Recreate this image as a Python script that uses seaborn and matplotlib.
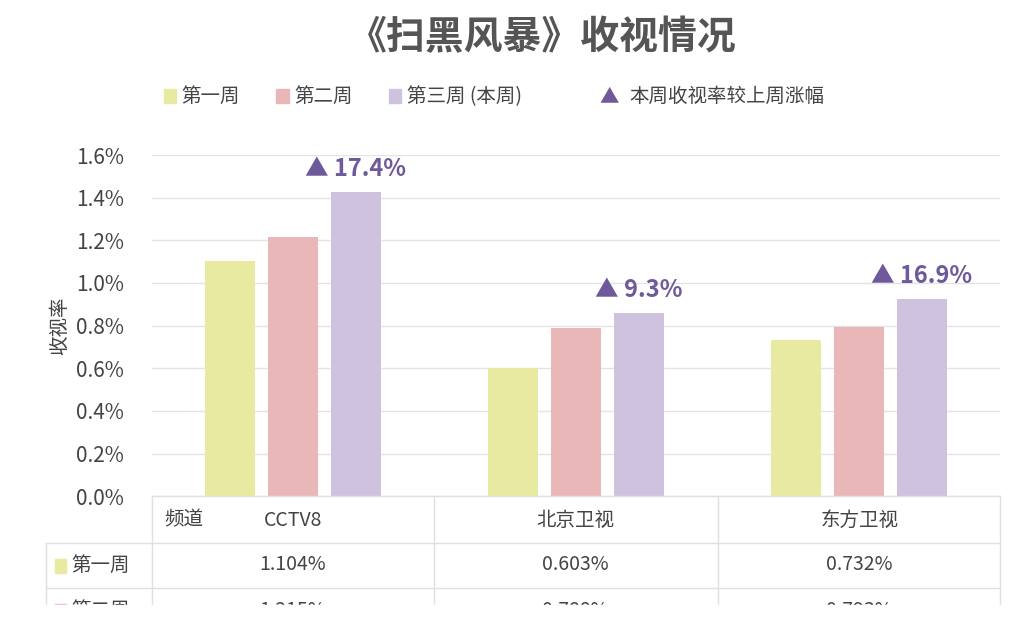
import pandas as pd
import seaborn as sns
from matplotlib import pyplot as plt
from matplotlib.patches import Rectangle

channels = ['CCTV8', '北京卫视', '东方卫视']
weeks = ['第一周', '第二周', '第三周 (本周)']
week1 = [1.104, 0.603, 0.732]
week2 = [1.215, 0.788, 0.793]
week3 = [1.426, 0.861, 0.927]
growth = ['17.4%', '9.3%', '16.9%']

colors = ['#E8EAA2', '#E9B7B7', '#CEC2DE']
purple = '#6E5A9A'
plt.rcParams['font.family'] = ['Noto Sans CJK SC', 'Noto Sans CJK JP', 'Noto Sans CJK TC', 'DejaVu Sans']

rows = []
for i, c in enumerate(channels):
    for w, vals in zip(weeks, [week1, week2, week3]):
        rows.append({'channel': c, 'week': w, 'rate': vals[i]})
df = pd.DataFrame(rows)

fig = plt.figure(figsize=(10.24, 6.25), dpi=100)
ax = fig.add_axes([0.148, 0.206, 0.829, 0.546])
sns.barplot(data=df, x='channel', y='rate', hue='week', palette=colors,
            gap=0.2, width=0.667, saturation=1, ax=ax, legend=False)
ax.set_xlim(-0.5, 2.5)
ax.set_ylim(0, 1.6)
ax.set_yticks([i * 0.2 for i in range(9)])
ax.set_yticklabels([f'{i * 0.2:.1f}%' for i in range(9)], fontsize=15, color='#444444')
ax.set_xticks([])
ax.set_xlabel('')
ax.set_ylabel('收视率', fontsize=14, color='#444444')
ax.grid(axis='y', color='#E4E4E4', lw=1)
ax.set_axisbelow(True)
for s in ax.spines.values():
    s.set_visible(False)
ax.tick_params(axis='y', length=0, pad=20)

for i, g in enumerate(growth):
    ax.text(i + 0.222, week3[i] + 0.05, '▲ ' + g, ha='center', va='bottom',
            fontsize=17, fontweight='bold', color=purple)

fig.text(0.53, 0.94, '《扫黑风暴》收视情况', ha='center', va='center',
         fontsize=28, fontweight='bold', color='#555555')

# legend row
leg = [(0.16, colors[0], '第一周'), (0.27, colors[1], '第二周'), (0.38, colors[2], '第三周 (本周)')]
for x, col, t in leg:
    fig.patches.append(Rectangle((x, 0.835), 0.012, 0.022, color=col, transform=fig.transFigure))
    fig.text(x + 0.017, 0.846, t, fontsize=14, va='center', color='#444444')
fig.text(0.585, 0.846, '▲', fontsize=14, va='center', color=purple)
fig.text(0.615, 0.846, '本周收视率较上周涨幅', fontsize=14, va='center', color='#444444')

# data table
H = 625.0
def fy(p):
    return 1 - p / H
lc = '#E0E0E0'
xs = [0.148, 0.424, 0.701, 0.977]
for p in [543, 588]:
    fig.add_artist(plt.Line2D([0.045, 0.977], [fy(p), fy(p)], color=lc, lw=1))
fig.add_artist(plt.Line2D([0.148, 0.977], [fy(496), fy(496)], color=lc, lw=1))
for x in xs:
    fig.add_artist(plt.Line2D([x, x], [fy(496), fy(610)], color=lc, lw=1))
fig.add_artist(plt.Line2D([0.045, 0.045], [fy(543), fy(610)], color=lc, lw=1))
centers = [0.286, 0.562, 0.839]
fig.text(0.16, fy(520), '频道', fontsize=14, va='center', color='#444444')
for cx, c in zip(centers, channels):
    fig.text(cx, fy(520), c, fontsize=14, va='center', ha='center', color='#444444')
for p, col, w, vals in [(565, colors[0], weeks[0], week1), (610, colors[1], weeks[1], week2)]:
    fig.patches.append(Rectangle((0.054, fy(p) - 0.012), 0.01, 0.022, color=col, transform=fig.transFigure))
    fig.text(0.07, fy(p), w, fontsize=14, va='center', color='#444444')
    for cx, v in zip(centers, vals):
        fig.text(cx, fy(p), f'{v:.3f}%', fontsize=14, va='center', ha='center', color='#444444')
# cut-off of the screenshot
fig.patches.append(Rectangle((0, 0), 1, fy(605), color='white', transform=fig.transFigure, zorder=10))

fig.savefig('out.png', dpi=100)
